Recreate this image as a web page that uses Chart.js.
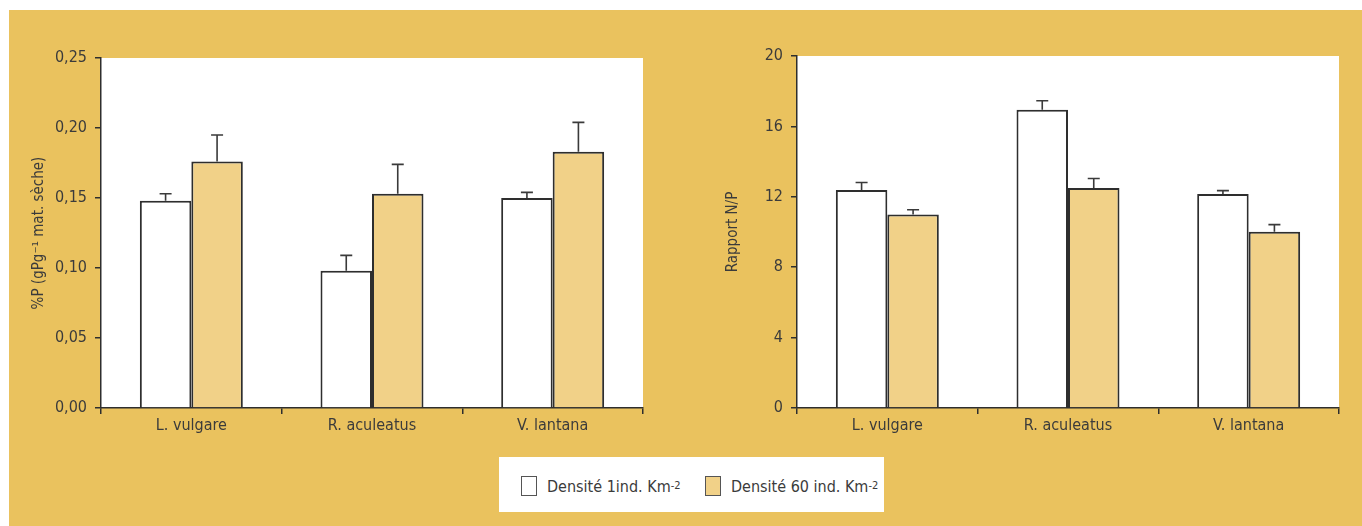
<!DOCTYPE html>
<html>
<head>
<meta charset="utf-8">
<script src="https://cdn.jsdelivr.net/npm/chart.js@4/dist/chart.umd.min.js"></script>
<style>
  html, body { margin: 0; padding: 0; background: #fff; }
  body { width: 1362px; height: 526px; position: relative; overflow: hidden;
         font-family: 'Liberation Sans Narrow', 'DejaVu Sans Condensed', 'Liberation Sans', sans-serif; }
  #bg { position: absolute; left: 9px; top: 10px; right: 0; bottom: 0; background: #eac25e; }
  canvas { position: absolute; top: 0; }
  #leftChart { left: 0; }
  #rightChart { left: 681px; }
  #legend { position: absolute; left: 499px; top: 457px; width: 385px; height: 55px; background: #fff;
            color: #3b3b3b; font-size: 16px; }
  .item { position: absolute; top: 19px; display: flex; align-items: center; }
  .swatch { width: 14px; height: 18px; border: 1.5px solid #555; margin-right: 10px; }
  sup { font-size: 11px; vertical-align: 7px; line-height: 0; }
</style>
</head>
<body>
<div id="bg"></div>
<canvas id="leftChart" width="681" height="526"></canvas>
<canvas id="rightChart" width="681" height="526"></canvas>
<div id="legend">
  <div class="item" style="left:22px"><span class="swatch" style="background:#fff"></span>Densité 1ind. Km<sup>-2</sup></div>
  <div class="item" style="left:206px"><span class="swatch" style="background:#f1d188"></span>Densité 60 ind. Km<sup>-2</sup></div>
</div>
<script>
const species = ['L. vulgare', 'R. aculeatus', 'V. lantana'];
const seriesNames = ['Densité 1ind. Km-2', 'Densité 60 ind. Km-2'];

// %P (gPg-1 mat. sèche)
const pLow = [0.148, 0.098, 0.150];
const pLowErr = [0.005, 0.011, 0.004];
const pHigh = [0.176, 0.153, 0.183];
const pHighErr = [0.019, 0.021, 0.021];

// Rapport N/P
const npLow = [12.38, 16.95, 12.16];
const npLowErr = [0.43, 0.51, 0.19];
const npHigh = [11.0, 12.5, 10.02];
const npHighErr = [0.26, 0.54, 0.4];

const pTicks = [0, 0.25, 0.05];
const npTicks = [0, 20, 4];

const ink = '#3b3b3b';
const lineColor = '#2e2e2e';
const goldFill = '#f1d188';

Chart.defaults.font.family = "'Liberation Sans Narrow', 'DejaVu Sans Condensed', 'Liberation Sans', sans-serif";
Chart.defaults.font.size = 16;
Chart.defaults.color = ink;

const plotBackground = {
  id: 'plotBackground',
  beforeDraw(chart) {
    const a = chart.chartArea;
    const ctx = chart.ctx;
    ctx.save();
    ctx.fillStyle = '#fff';
    ctx.fillRect(a.left, a.top, a.right - a.left, a.bottom - a.top);
    ctx.restore();
  }
};

const errorBars = {
  id: 'errorBars',
  afterDatasetsDraw(chart) {
    const ctx = chart.ctx;
    const yScale = chart.scales.y;
    ctx.save();
    ctx.strokeStyle = '#3a3a3a';
    ctx.lineWidth = 1.6;
    chart.data.datasets.forEach((ds, i) => {
      const meta = chart.getDatasetMeta(i);
      meta.data.forEach((bar, j) => {
        const top = yScale.getPixelForValue(ds.data[j] + ds.errors[j]);
        ctx.beginPath();
        ctx.moveTo(bar.x, bar.y);
        ctx.lineTo(bar.x, top);
        ctx.moveTo(bar.x - 6, top);
        ctx.lineTo(bar.x + 6, top);
        ctx.stroke();
      });
    });
    ctx.restore();
  }
};

function makeChart(id, low, lowErr, high, highErr, ticks, title, opts) {
  return new Chart(document.getElementById(id), {
    type: 'bar',
    data: {
      labels: species,
      datasets: [
        { label: seriesNames[0], data: low, errors: lowErr, backgroundColor: '#fff',
          borderColor: lineColor, borderWidth: 2 },
        { label: seriesNames[1], data: high, errors: highErr, backgroundColor: goldFill,
          borderColor: lineColor, borderWidth: 2 }
      ]
    },
    options: {
      responsive: false,
      animation: false,
      categoryPercentage: 0.57,
      barPercentage: 1.0,
      layout: { padding: { top: opts.top, right: opts.right, left: 0, bottom: 0 } },
      plugins: { legend: { display: false }, tooltip: { enabled: false } },
      scales: {
        x: {
          grid: { offset: true, drawOnChartArea: false, tickLength: 6, color: lineColor, lineWidth: 1.5 },
          border: { color: lineColor, width: 1.5 },
          ticks: { padding: 2, color: ink },
          afterFit(scale) { scale.height = opts.xHeight; }
        },
        y: {
          min: ticks[0],
          max: ticks[1],
          ticks: {
            stepSize: ticks[2],
            padding: 8,
            color: ink,
            callback: opts.format
          },
          grid: { drawOnChartArea: false, tickLength: 6, color: lineColor, lineWidth: 1.5 },
          border: { color: lineColor, width: 1.5 },
          title: { display: true, text: title, font: { size: 15 }, color: ink, padding: { top: opts.titlePad, bottom: 0 } },
          afterFit(scale) { scale.width = opts.yWidth; }
        }
      }
    },
    plugins: [plotBackground, errorBars]
  });
}

makeChart('leftChart', pLow, pLowErr, pHigh, pHighErr, pTicks, '%P (gPg⁻¹ mat. sèche)', {
  top: 58, right: 38, xHeight: 118, yWidth: 101, titlePad: 30,
  format: (v) => v.toFixed(2).replace('.', ',')
});

makeChart('rightChart', npLow, npLowErr, npHigh, npHighErr, npTicks, 'Rapport N/P', {
  top: 56, right: 23, xHeight: 118, yWidth: 116, titlePad: 43,
  format: (v) => String(v)
});
</script>
</body>
</html>
